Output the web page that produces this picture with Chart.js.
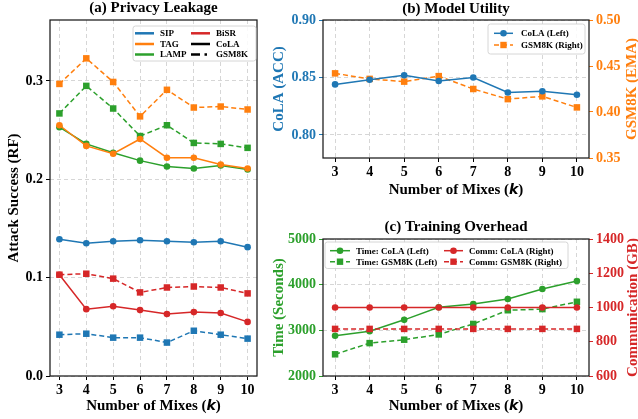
<!DOCTYPE html>
<html>
<head>
<meta charset="utf-8">
<script src="https://cdn.jsdelivr.net/npm/chart.js@4.4.1/dist/chart.umd.min.js"></script>
<style>
  html, body { margin: 0; padding: 0; background: #fff; }
  #wrap { position: relative; width: 638px; height: 419px; overflow: hidden; }
  canvas { position: absolute; }
</style>
</head>
<body>
<div id="wrap">
  <canvas id="leakChart" width="262" height="419" style="left:0;top:0"></canvas>
  <canvas id="utilChart" width="376" height="210" style="left:262px;top:0"></canvas>
  <canvas id="costChart" width="376" height="209" style="left:262px;top:210px"></canvas>
</div>
<script>
// Number of mixes k (x axis of every panel)
const mixes = [3, 4, 5, 6, 7, 8, 9, 10];

// (a) Privacy leakage, attack success (RF)
const sipCola  = [0.139, 0.135, 0.137, 0.138, 0.137, 0.136, 0.137, 0.131];
const sipGsm   = [0.042, 0.043, 0.039, 0.039, 0.034, 0.046, 0.042, 0.038];
const tagCola  = [0.255, 0.234, 0.226, 0.241, 0.222, 0.222, 0.215, 0.211];
const tagGsm   = [0.297, 0.323, 0.299, 0.264, 0.291, 0.273, 0.274, 0.271];
const lampCola = [0.253, 0.236, 0.227, 0.219, 0.213, 0.211, 0.214, 0.210];
const lampGsm  = [0.267, 0.295, 0.272, 0.244, 0.255, 0.237, 0.236, 0.232];
const bisrCola = [0.103, 0.068, 0.071, 0.067, 0.063, 0.065, 0.064, 0.055];
const bisrGsm  = [0.103, 0.104, 0.099, 0.085, 0.090, 0.091, 0.090, 0.084];

// (b) Model utility
const utilCola = [0.844, 0.848, 0.852, 0.847, 0.850, 0.837, 0.838, 0.835];
const utilGsm  = [0.442, 0.436, 0.433, 0.439, 0.425, 0.414, 0.417, 0.405];

// (c) Training overhead
const timeCola = [2880, 2980, 3230, 3505, 3575, 3685, 3905, 4080];
const timeGsm  = [2475, 2720, 2795, 2910, 3140, 3440, 3465, 3625];
const commCola = [1000, 1000, 1000, 1000, 1000, 1000, 1000, 1000];
const commGsm  = [875, 875, 875, 875, 875, 875, 875, 875];

// tick labels
const leakTicks = [0, 0.1, 0.2, 0.3];
const accTicks  = [0.80, 0.85, 0.90];
const emaTicks  = [0.35, 0.40, 0.45, 0.50];
const timeTicks = [2000, 3000, 4000, 5000];
const commTicks = [600, 800, 1000, 1200, 1400];

const BLUE = '#1f77b4', ORANGE = '#ff7f0e', GREEN = '#2ca02c', RED = '#d62728';
const SERIF = '"Liberation Serif", "Times New Roman", serif';

function series(label, values, color, dashed, marker, axis) {
    return {
        label: label,
        data: mixes.map((k, i) => ({ x: k, y: values[i] })),
        yAxisID: axis || 'y',
        borderColor: color,
        backgroundColor: color,
        borderWidth: 1.5,
        borderDash: dashed ? [5, 3] : [],
        pointStyle: marker,
        pointRadius: marker === 'rect' ? 4.6 : 3.3,
        pointBorderWidth: 0,
        fill: false,
        tension: 0
    };
}

function xScale(h) {
    return {
        type: 'linear', min: 2.65, max: 10.35,
        ticks: {
            stepSize: 1, includeBounds: false, autoSkip: false, maxRotation: 0,
            color: '#000', padding: 2, font: { family: SERIF, weight: 'bold', size: 14 }
        },
        grid: { color: '#d6d6d6', lineWidth: 1, tickColor: '#000', tickLength: 4, tickWidth: 1, tickBorderDash: [] },
        border: { display: false, dash: [4, 3] },
        afterFit: s => { s.height = h; }
    };
}

function yScale(pos, min, max, step, color, w, digits, drawGrid, tickList) {
    return {
        type: 'linear', position: pos, min: min, max: max,
        ticks: {
            stepSize: step, includeBounds: false, color: color, padding: 3,
            font: { family: SERIF, weight: 'bold', size: 14 },
            callback: v => tickList.some(t => Math.abs(t - v) < step / 100) ? v.toFixed(digits) : ''
        },
        grid: {
            color: '#d6d6d6', lineWidth: 1, drawOnChartArea: drawGrid,
            tickColor: color, tickLength: 4, tickWidth: 1, tickBorderDash: []
        },
        border: { display: false, dash: [4, 3] },
        afterFit: s => { s.width = w; }
    };
}

function drawMarker(ctx, kind, x, y, color) {
    ctx.fillStyle = color;
    ctx.beginPath();
    if (kind === 'rect') ctx.rect(x - 3.2, y - 3.2, 6.4, 6.4);
    else ctx.arc(x, y, 3.3, 0, Math.PI * 2);
    ctx.fill();
}

function drawLegend(ctx, lg) {
    ctx.save();
    ctx.fillStyle = 'rgba(255,255,255,0.85)';
    ctx.strokeStyle = '#cccccc';
    ctx.lineWidth = 0.8;
    ctx.beginPath();
    ctx.roundRect(lg.box[0], lg.box[1], lg.box[2], lg.box[3], 2.5);
    ctx.fill();
    ctx.stroke();
    ctx.font = 'bold 9px ' + SERIF;
    ctx.textAlign = 'left';
    ctx.textBaseline = 'middle';
    lg.items.forEach(it => {
        ctx.strokeStyle = it.color;
        ctx.lineWidth = lg.lineWidth;
        ctx.setLineDash(it.dash || []);
        ctx.beginPath();
        ctx.moveTo(it.x0, it.y);
        ctx.lineTo(it.x1, it.y);
        ctx.stroke();
        ctx.setLineDash([]);
        if (it.marker) drawMarker(ctx, it.marker, (it.x0 + it.x1) / 2, it.y, it.color);
        ctx.fillStyle = '#000';
        ctx.fillText(it.text, it.tx, it.y + 0.5);
    });
    ctx.restore();
}

function drawXTitle(ctx, cx, y) {
    const parts = [
        ['Number of Mixes (', 'bold 15px ' + SERIF],
        ['k', 'italic bold 14px "DejaVu Sans"'],
        [')', 'bold 15px ' + SERIF]
    ];
    let total = 0;
    parts.forEach(p => { ctx.font = p[1]; total += ctx.measureText(p[0]).width; });
    let x = cx - total / 2;
    ctx.textAlign = 'left';
    ctx.fillStyle = '#000';
    parts.forEach(p => {
        ctx.font = p[1];
        ctx.fillText(p[0], x, y);
        x += ctx.measureText(p[0]).width;
    });
}

function drawYTitle(ctx, t, cy) {
    ctx.save();
    ctx.translate(t.x, cy);
    ctx.rotate(-Math.PI / 2);
    ctx.font = 'bold 15px ' + SERIF;
    ctx.fillStyle = t.color;
    ctx.textAlign = 'center';
    ctx.fillText(t.text, 0, 0);
    ctx.restore();
}

// frame, titles and legend, drawn over the chart like matplotlib does
function makeDeco(cfg) {
    return {
        id: 'deco',
        afterDraw(chart) {
            const ctx = chart.ctx;
            const a = chart.chartArea;
            const cx = (a.left + a.right) / 2;
            const cy = (a.top + a.bottom) / 2;
            ctx.save();
            ctx.strokeStyle = '#1a1a1a';
            ctx.lineWidth = 1.25;
            ctx.strokeRect(a.left, a.top, a.right - a.left, a.bottom - a.top);
            ctx.textBaseline = 'middle';
            ctx.textAlign = 'center';
            ctx.fillStyle = '#000';
            ctx.font = 'bold 15px ' + SERIF;
            ctx.fillText(cfg.title, cx, cfg.titleY);
            drawXTitle(ctx, cx, cfg.xTitleY);
            if (cfg.yLeft) drawYTitle(ctx, cfg.yLeft, cy);
            if (cfg.yRight) drawYTitle(ctx, cfg.yRight, cy);
            ctx.restore();
            drawLegend(ctx, cfg.legend);
        }
    };
}

function baseOptions(padTop, padRight, scales) {
    return {
        responsive: false,
        animation: false,
        devicePixelRatio: 1,
        layout: { padding: { top: padTop, right: padRight, left: 0, bottom: 0 } },
        plugins: { legend: { display: false }, title: { display: false }, tooltip: { enabled: false } },
        scales: scales
    };
}

// (a) Privacy Leakage
new Chart(document.getElementById('leakChart'), {
    type: 'line',
    data: {
        datasets: [
            series('SIP CoLA', sipCola, BLUE, false, 'circle'),
            series('SIP GSM8K', sipGsm, BLUE, true, 'rect'),
            series('TAG CoLA', tagCola, ORANGE, false, 'circle'),
            series('TAG GSM8K', tagGsm, ORANGE, true, 'rect'),
            series('LAMP CoLA', lampCola, GREEN, false, 'circle'),
            series('LAMP GSM8K', lampGsm, GREEN, true, 'rect'),
            series('BiSR CoLA', bisrCola, RED, false, 'circle'),
            series('BiSR GSM8K', bisrGsm, RED, true, 'rect')
        ]
    },
    options: baseOptions(20, 5, {
        x: xScale(43),
        y: yScale('left', 0, 0.362, 0.1, '#000', 50, 1, true, leakTicks)
    }),
    plugins: [makeDeco({
        title: '(a) Privacy Leakage', titleY: 8, xTitleY: 406,
        yLeft: { text: 'Attack Success (RF)', x: 14, color: '#000' },
        legend: {
            box: [133, 26, 123, 35], lineWidth: 2.5,
            items: [
                { text: 'SIP', color: BLUE, x0: 135, x1: 154, tx: 160, y: 33.3 },
                { text: 'TAG', color: ORANGE, x0: 135, x1: 154, tx: 160, y: 44 },
                { text: 'LAMP', color: GREEN, x0: 135, x1: 154, tx: 160, y: 54.5 },
                { text: 'BiSR', color: RED, x0: 191, x1: 210, tx: 216, y: 33.3 },
                { text: 'CoLA', color: '#000', x0: 191, x1: 210, tx: 216, y: 44 },
                { text: 'GSM8K', color: '#000', dash: [9, 4.5, 2.5, 9], x0: 191, x1: 210, tx: 216, y: 54.5 }
            ]
        }
    })]
});

// (b) Model Utility
new Chart(document.getElementById('utilChart'), {
    type: 'line',
    data: {
        datasets: [
            series('CoLA (Left)', utilCola, BLUE, false, 'circle', 'y'),
            series('GSM8K (Right)', utilGsm, ORANGE, true, 'rect', 'y2')
        ]
    },
    options: baseOptions(20, 0, {
        x: xScale(52),
        y: yScale('left', 0.78, 0.90, 0.05, BLUE, 61, 2, true, accTicks),
        y2: yScale('right', 0.35, 0.50, 0.05, ORANGE, 49, 2, false, emaTicks)
    }),
    plugins: [makeDeco({
        title: '(b) Model Utility', titleY: 9, xTitleY: 190,
        yLeft: { text: 'CoLA (ACC)', x: 17, color: BLUE },
        yRight: { text: 'GSM8K (EMA)', x: 370, color: ORANGE },
        legend: {
            box: [226, 24, 97, 30], lineWidth: 1.5,
            items: [
                { text: 'CoLA (Left)', color: BLUE, marker: 'circle', x0: 232, x1: 251, tx: 259, y: 33.3 },
                { text: 'GSM8K (Right)', color: ORANGE, marker: 'rect', dash: [5, 3], x0: 232, x1: 251, tx: 259, y: 45 }
            ]
        }
    })]
});

// (c) Training Overhead
new Chart(document.getElementById('costChart'), {
    type: 'line',
    data: {
        datasets: [
            series('Comm: CoLA (Right)', commCola, RED, false, 'circle', 'y2'),
            series('Comm: GSM8K (Right)', commGsm, RED, true, 'rect', 'y2'),
            series('Time: CoLA (Left)', timeCola, GREEN, false, 'circle', 'y'),
            series('Time: GSM8K (Left)', timeGsm, GREEN, true, 'rect', 'y')
        ]
    },
    options: baseOptions(29, 0, {
        x: xScale(43),
        y: yScale('left', 2000, 5000, 1000, GREEN, 61, 0, true, timeTicks),
        y2: yScale('right', 600, 1400, 200, RED, 49, 0, false, commTicks)
    }),
    plugins: [makeDeco({
        title: '(c) Training Overhead', titleY: 17, xTitleY: 196,
        yLeft: { text: 'Time (Seconds)', x: 17, color: GREEN },
        yRight: { text: 'Communication (GB)', x: 371, color: RED },
        legend: {
            box: [63, 32, 243, 26.5], lineWidth: 1.5,
            items: [
                { text: 'Time: CoLA (Left)', color: GREEN, marker: 'circle', x0: 68, x1: 88, tx: 94, y: 40.7 },
                { text: 'Time: GSM8K (Left)', color: GREEN, marker: 'rect', dash: [5, 3], x0: 68, x1: 88, tx: 94, y: 51.7 },
                { text: 'Comm: CoLA (Right)', color: RED, marker: 'circle', x0: 182, x1: 201, tx: 207, y: 40.7 },
                { text: 'Comm: GSM8K (Right)', color: RED, marker: 'rect', dash: [5, 3], x0: 182, x1: 201, tx: 207, y: 51.7 }
            ]
        }
    })]
});
</script>
</body>
</html>
